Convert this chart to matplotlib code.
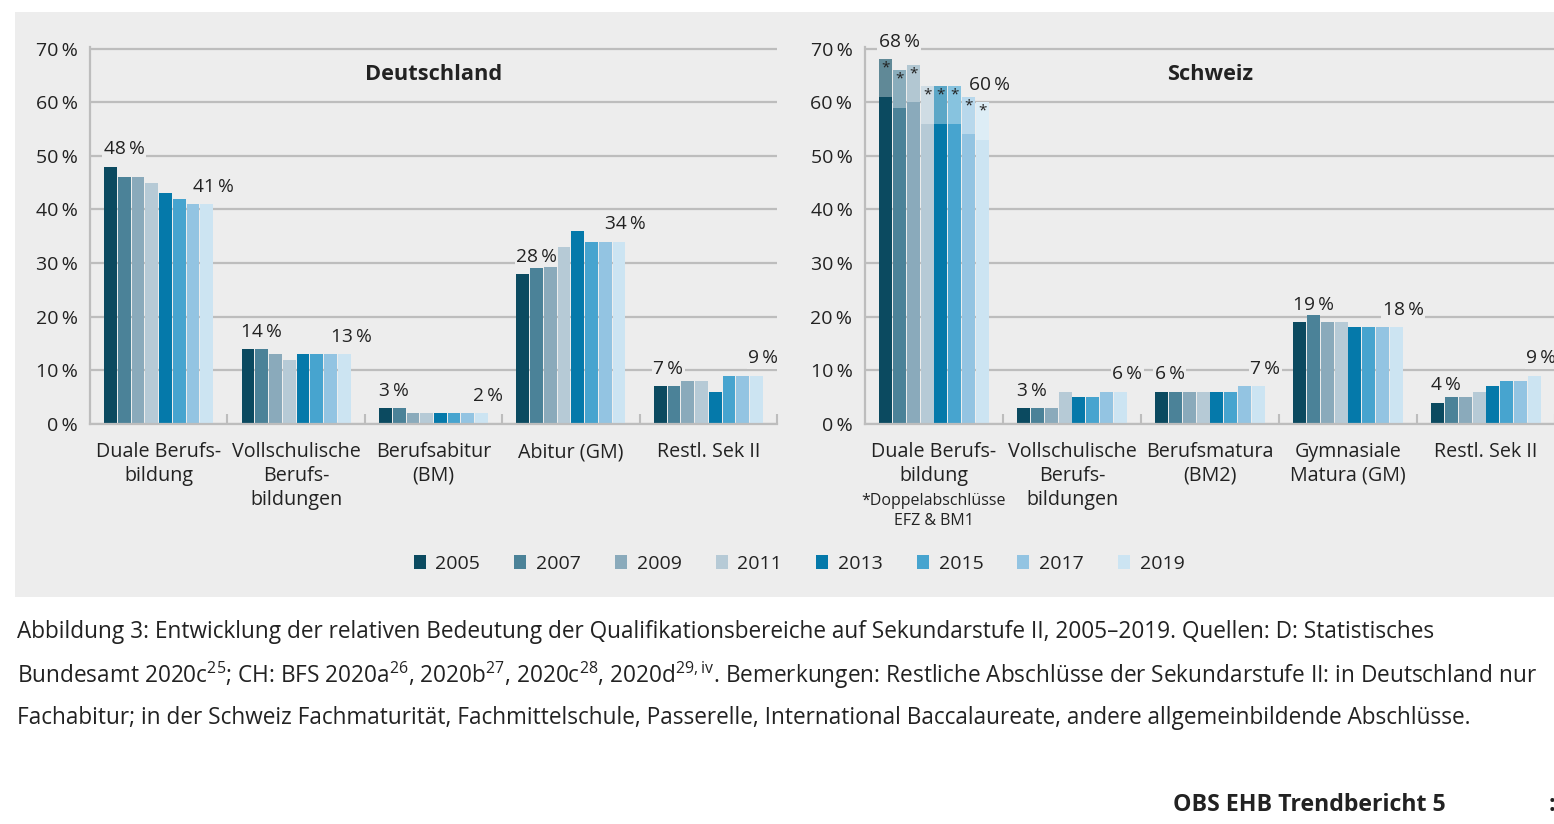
import matplotlib.pyplot as plt
from matplotlib.patches import Rectangle, Patch
import numpy as np

plt.rcParams['font.family'] = ['Open Sans', 'DejaVu Sans']
plt.rcParams['mathtext.fontset'] = 'custom'
plt.rcParams['mathtext.rm'] = 'Open Sans'

years = ['2005', '2007', '2009', '2011', '2013', '2015', '2017', '2019']
colors = ['#0b4a60', '#4b8298', '#8aaabb', '#b6cad6', '#0579aa', '#47a4cf', '#93c4e2', '#cce4f2']

de_labels = ['Duale Berufs-\nbildung', 'Vollschulische\nBerufs-\nbildungen', 'Berufsabitur\n(BM)',
             'Abitur (GM)', 'Restl. Sek II']
de_dual = [48, 46, 46, 45, 43, 42, 41, 41]
de_voll = [14, 14, 13, 12, 13, 13, 13, 13]
de_bm = [3, 3, 2, 2, 2, 2, 2, 2]
de_abi = [28, 29, 30, 33, 36, 34, 34, 34]
de_rest = [7, 7, 8, 8, 6, 9, 9, 9]

ch_labels = ['Duale Berufs-\nbildung', 'Vollschulische\nBerufs-\nbildungen', 'Berufsmatura\n(BM2)',
             'Gymnasiale\nMatura (GM)', 'Restl. Sek II']
ch_dual = [68, 66, 67, 63, 63, 63, 61, 60]       # gesamt inkl. Doppelabschlüsse
ch_dual_efz = [61, 59, 60, 56, 56, 56, 54, 53]   # ohne Doppelabschlüsse
ch_voll = [3, 3, 3, 6, 5, 5, 6, 6]
ch_bm = [6, 6, 6, 6, 6, 6, 7, 7]
ch_gm = [19, 21, 19, 19, 18, 18, 18, 18]
ch_rest = [4, 5, 5, 6, 7, 8, 8, 9]

de_data = [de_dual, de_voll, de_bm, de_abi, de_rest]
ch_data = [ch_dual, ch_voll, ch_bm, ch_gm, ch_rest]

BG = '#ededed'
GRID = '#bdbdbd'
TXT = '#222222'
W, H = 1554, 824
bw = 0.1
bar_w = 0.093


def lighten(c, f=0.35):
    r, g, b = [int(c[i:i + 2], 16) for i in (1, 3, 5)]
    return '#%02x%02x%02x' % tuple(int(v + (255 - v) * f) for v in (r, g, b))


def fmt(v):
    return f'{v}\u2009%'


def draw(ax, data, labels, title, dual_base=None):
    ax.set_facecolor('none')
    for g, vals in enumerate(data):
        xs = g - 0.35 + np.arange(8) * bw
        for i, v in enumerate(vals):
            if g == 0 and dual_base is not None:
                b = dual_base[i]
                ax.bar(xs[i], b, bar_w, color=colors[i], linewidth=0, zorder=2)
                ax.bar(xs[i], v - b, bar_w, bottom=b, color=lighten(colors[i]), linewidth=0, zorder=2)
                ax.annotate('*', (xs[i], v), xytext=(0, -1), textcoords='offset points',
                            ha='center', va='top', fontsize=11, color=TXT, zorder=4)
            else:
                ax.bar(xs[i], v, bar_w, color=colors[i], linewidth=0, zorder=2)
        box = dict(facecolor=BG, edgecolor='none', pad=1)
        ax.annotate(fmt(vals[0]), (xs[0] - bw / 2, vals[0]), xytext=(0, 6), textcoords='offset points',
                    ha='left', va='bottom', fontsize=13.8, color=TXT, bbox=box, zorder=5)
        ax.annotate(fmt(vals[-1]), (xs[-1] + bw / 2, vals[-1]), xytext=(0, 6), textcoords='offset points',
                    ha='center', va='bottom', fontsize=13.8, color=TXT, bbox=box, zorder=5)
    ax.set_xlim(-0.5, 4.5)
    ax.set_ylim(0, 70.3)
    ax.set_yticks(range(0, 71, 10))
    ax.set_yticklabels([fmt(t) for t in range(0, 71, 10)])
    ax.set_xticks(range(5))
    ax.set_xticklabels(labels, fontsize=14.2, color=TXT, linespacing=1.25)
    ax.set_xticks(np.arange(0.5, 5, 1), minor=True)
    ax.tick_params(axis='x', which='major', length=0, pad=13)
    ax.tick_params(axis='x', which='minor', direction='in', length=7, width=1.5, color=GRID)
    ax.tick_params(axis='y', length=0, pad=9, labelsize=14, labelcolor=TXT)
    ax.yaxis.grid(True, color=GRID, linewidth=1.6, zorder=0)
    ax.set_axisbelow(True)
    for s in ['top', 'right']:
        ax.spines[s].set_visible(False)
    for s in ['left', 'bottom']:
        ax.spines[s].set_color(GRID)
        ax.spines[s].set_linewidth(1.6)
    ax.text(0.5, 0.928, title, transform=ax.transAxes, ha='center', va='center',
            fontsize=15.7, fontweight='bold', color=TXT)


fig = plt.figure(figsize=(W / 100, H / 100), dpi=100)
fig.add_artist(Rectangle((15 / W, 1 - 597 / H), (W - 15) / W, 585 / H, transform=fig.transFigure,
                         facecolor=BG, edgecolor='none', zorder=-5))

ax1 = fig.add_axes([90 / W, 1 - 424 / H, 687 / W, 377 / H])
ax2 = fig.add_axes([865 / W, 1 - 424 / H, 690 / W, 377 / H])
draw(ax1, de_data, de_labels, 'Deutschland')
draw(ax2, ch_data, ch_labels, 'Schweiz', dual_base=ch_dual_efz)

fig.text(934 / W, 1 - 511 / H, '*Doppelabschlüsse\nEFZ & BM1', ha='center', va='center',
         fontsize=11.5, color=TXT, linespacing=1.3)

handles = [Patch(facecolor=c, edgecolor='none') for c in colors]
fig.legend(handles, years, loc='center', bbox_to_anchor=(799 / W, 1 - 564 / H), ncol=8,
           frameon=False, fontsize=14, handlelength=0.62, handleheight=0.72, handletextpad=0.5,
           columnspacing=1.75, labelcolor=TXT)

cap = [
    'Abbildung 3: Entwicklung der relativen Bedeutung der Qualifikationsbereiche auf Sekundarstufe II, '
    '2005–2019. Quellen: D: Statistisches',
    'Bundesamt 2020c$^{25}$; CH: BFS 2020a$^{26}$, 2020b$^{27}$, 2020c$^{28}$, 2020d$^{29,\\mathrm{iv}}$. '
    'Bemerkungen: Restliche Abschlüsse der Sekundarstufe II: in Deutschland nur',
    'Fachabitur; in der Schweiz Fachmaturität, Fachmittelschule, Passerelle, International Baccalaureate, '
    'andere allgemeinbildende Abschlüsse.',
]
for k, line in enumerate(cap):
    fig.text(17 / W, 1 - (632 + 43 * k) / H, line, ha='left', va='center', fontsize=16.3, color=TXT)

fig.text(1173 / W, 1 - 805 / H, 'OBS EHB Trendbericht 5', ha='left', va='center', fontsize=16.7,
         fontweight='bold', color=TXT)
fig.text(1549 / W, 1 - 805 / H, ':', ha='left', va='center', fontsize=16.7, fontweight='bold', color=TXT)

fig.savefig('out.png', dpi=100, facecolor='white')
